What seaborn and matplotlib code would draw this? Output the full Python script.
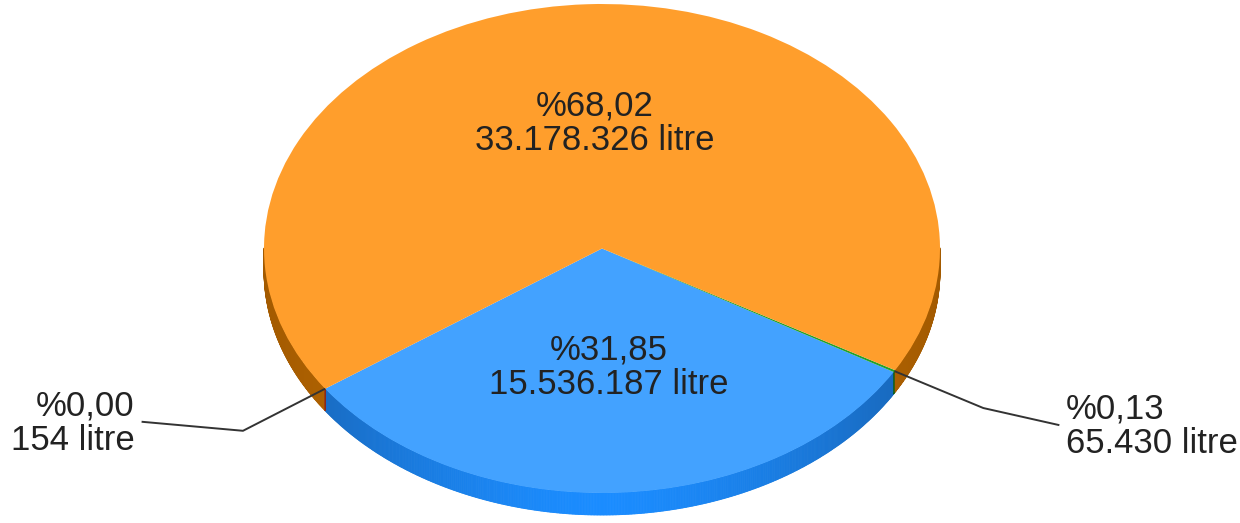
import numpy as np
import matplotlib
matplotlib.use('Agg')
import matplotlib.pyplot as plt
import matplotlib.colors as mcolors
from matplotlib.collections import PolyCollection
import seaborn as sns

# slice data, listed counter-clockwise starting at the lower-left edge
litres = [15536187, 65430, 33178326, 154]
percent_labels = ['%31,85', '%0,13', '%68,02', '%0,00']
litre_labels = ['15.536.187 litre', '65.430 litre', '33.178.326 litre', '154 litre']
inside = [True, False, True, False]

face_colors = ['#43A2FF', '#22A02A', '#FF9E2C', '#D0402A']
rim_mid_colors = ['#1A8CFF', '#137A18', '#C97406', '#A8301E']
rim_edge_colors = ['#1862B0', '#0E5A12', '#A35A00', '#80241A']

depth = 0.09

sns.set_theme(style='white')
plt.rcParams['font.family'] = ['Liberation Sans', 'DejaVu Sans']

fig = plt.figure(figsize=(12.4, 5.23), dpi=100)
ax = fig.add_axes([0, 0, 1, 1])

wedges, _ = ax.pie(litres, colors=face_colors, startangle=-145, counterclock=True,
                   wedgeprops=dict(linewidth=0, zorder=3))
ax.set_aspect('auto')
ax.set_xlim(-602 / 338, (1240 - 602) / 338)
ax.set_ylim(-274.5 / 244.5, 248.5 / 244.5)
ax.axis('off')

# side of the 3D pie, built from the wedge angles
polys, cols = [], []
for w, cm, ce in zip(wedges, rim_mid_colors, rim_edge_colors):
    t = np.radians(np.arange(w.theta1, w.theta2 + 0.25, 0.25))
    t[-1] = min(t[-1], np.radians(w.theta2))
    cm_rgb = np.array(mcolors.to_rgb(cm))
    ce_rgb = np.array(mcolors.to_rgb(ce))
    for a, b in zip(t[:-1], t[1:]):
        if np.sin(a) > 0.001 and np.sin(b) > 0.001:
            continue
        polys.append([(np.cos(a), np.sin(a)), (np.cos(b), np.sin(b)),
                      (np.cos(b), np.sin(b) - depth), (np.cos(a), np.sin(a) - depth)])
        k = abs(np.cos((a + b) / 2)) ** 1.5
        cols.append(cm_rgb * (1 - k) + ce_rgb * k)
pc = PolyCollection(polys, facecolors=cols, edgecolors=cols, linewidths=0.6, zorder=1)
ax.add_collection(pc)

txt = dict(fontsize=25, color='#222222', linespacing=1.06)
for w, p, l, ins in zip(wedges, percent_labels, litre_labels, inside):
    mid = np.radians((w.theta1 + w.theta2) / 2)
    if ins:
        ax.text(0.498 * np.cos(mid), 0.498 * np.sin(mid) + 0.013, p + '\n' + l,
                ha='center', va='center', zorder=5, **txt)
    else:
        ex, ey = np.cos(mid), np.sin(mid)
        side = 1 if ex > 0 else -1
        if side > 0:
            kx, ky = ex + 0.263, ey - 0.151
            lx, ly = kx + 0.225, ky - 0.07
        else:
            kx, ky = ex - 0.243, ey - 0.172
            lx, ly = kx - 0.30, ky + 0.037
        ax.plot([ex, kx, lx], [ey, ky, ly], color='#333333', lw=1.4, zorder=4,
                solid_capstyle='butt')
        ax.text(lx + side * 0.02, ly - 0.005, p + '\n' + l,
                ha='left' if side > 0 else 'right', va='center', zorder=5, **txt)

fig.savefig('out.png', dpi=100, facecolor='white')
